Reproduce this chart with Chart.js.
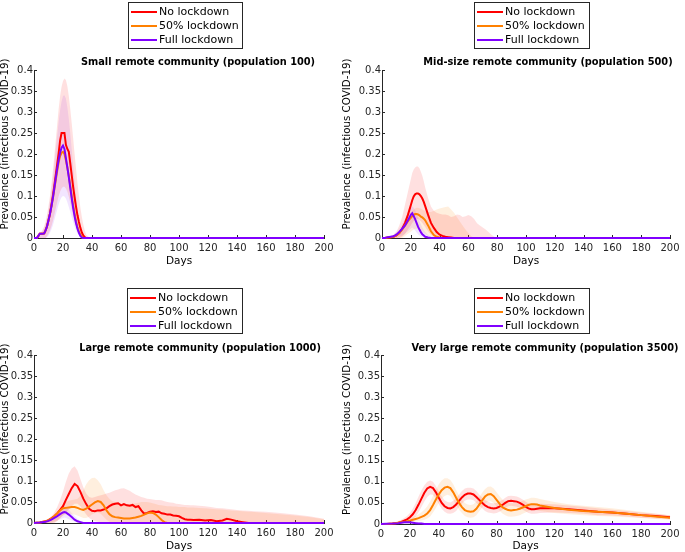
<!DOCTYPE html>
<html><head><meta charset="utf-8">
<script src="https://cdn.jsdelivr.net/npm/chart.js@4.4.1/dist/chart.umd.min.js"></script>
<style>
html,body{margin:0;padding:0;background:#fff;overflow:hidden;width:685px;height:552px;}
canvas{position:absolute;}
</style></head><body>
<canvas id="c1" width="342" height="267" style="left:0;top:0"></canvas>
<canvas id="c2" width="343" height="267" style="left:342px;top:0"></canvas>
<canvas id="c3" width="342" height="276" style="left:0;top:276px"></canvas>
<canvas id="c4" width="343" height="276" style="left:342px;top:276px"></canvas>
<script>
// ---------- DATA ----------
const SERIES_LABELS = ['No lockdown', '50% lockdown', 'Full lockdown'];
const PANEL_TITLES = [
  'Small remote community (population 100)',
  'Mid-size remote community (population 500)',
  'Large remote community (population 1000)',
  'Very large remote community (population 3500)'
];
const X_LABEL = 'Days';
const Y_LABEL = 'Prevalence (infectious COVID-19)';

// Panel 1 – population 100
const P1_DAYS = [0,2,3,4,5,6,7,8,9,10,11,12,13,14,15,16,17,18,19,20,21,22,23,24,25,26,27,28,29,30,31,32,33,34,35,36,38,40,200];
const P1_NO   = [0,0,0.005,0.01,0.01,0.01,0.011,0.018,0.028,0.042,0.058,0.078,0.1,0.124,0.15,0.176,0.202,0.232,0.25,0.25,0.25,0.222,0.212,0.205,0.178,0.15,0.122,0.097,0.074,0.054,0.038,0.024,0.013,0.006,0.002,0,0,0,0];
const P1_HALF = [0,0,0.005,0.01,0.01,0.01,0.011,0.018,0.028,0.042,0.057,0.075,0.094,0.116,0.138,0.16,0.18,0.195,0.203,0.205,0.2,0.185,0.168,0.148,0.125,0.1,0.078,0.058,0.04,0.026,0.015,0.008,0.003,0,0,0,0,0,0];
const P1_FULL = [0,0,0.005,0.01,0.01,0.01,0.011,0.018,0.028,0.042,0.057,0.075,0.095,0.118,0.142,0.165,0.186,0.203,0.215,0.22,0.212,0.19,0.168,0.145,0.12,0.095,0.072,0.052,0.035,0.022,0.012,0.005,0.001,0,0,0,0,0,0];
const P1_NO_HI = [0,0,0.005,0.01,0.014,0.02,0.028,0.04,0.056,0.076,0.1,0.128,0.16,0.195,0.232,0.27,0.308,0.338,0.36,0.374,0.38,0.376,0.362,0.338,0.308,0.274,0.238,0.2,0.165,0.13,0.1,0.072,0.05,0.032,0.018,0.008,0.002,0,0];
const P1_NO_LO = [0,0,0,0,0,0,0,0,0.004,0.01,0.018,0.028,0.04,0.055,0.07,0.085,0.1,0.11,0.118,0.122,0.122,0.118,0.11,0.098,0.084,0.068,0.052,0.038,0.026,0.016,0.009,0.004,0.001,0,0,0,0,0,0];
const P1_FULL_HI = [0,0,0.005,0.01,0.013,0.017,0.024,0.034,0.048,0.066,0.088,0.114,0.143,0.176,0.21,0.244,0.277,0.304,0.325,0.338,0.34,0.332,0.312,0.284,0.25,0.212,0.172,0.134,0.1,0.07,0.047,0.029,0.016,0.008,0.003,0,0,0,0];
const P1_FULL_LO = [0,0,0,0,0,0,0,0,0.002,0.006,0.012,0.02,0.03,0.042,0.055,0.068,0.08,0.09,0.097,0.1,0.099,0.094,0.085,0.074,0.062,0.05,0.038,0.027,0.018,0.011,0.006,0.003,0.001,0,0,0,0,0,0];

// Panel 2 – population 500
const P2_DAYS = [0,2,4,6,8,10,12,14,16,18,20,21,22,23,24,25,26,27,28,29,30,32,34,36,38,40,42,44,46,48,50,52,54,56,58,60,62,64,66,68,70,72,74,76,78,80,200];
const P2_NO   = [0,0,0.001,0.002,0.003,0.006,0.012,0.022,0.036,0.055,0.078,0.09,0.099,0.104,0.106,0.106,0.104,0.1,0.094,0.086,0.076,0.055,0.036,0.024,0.014,0.008,0.005,0.003,0.002,0.001,0,0,0,0,0,0,0,0,0,0,0,0,0,0,0,0,0];
const P2_HALF = [0,0,0.001,0.002,0.003,0.006,0.012,0.02,0.03,0.04,0.048,0.052,0.055,0.057,0.057,0.056,0.054,0.051,0.049,0.046,0.042,0.03,0.016,0.007,0.003,0.001,0,0,0,0,0,0,0,0,0,0,0,0,0,0,0,0,0,0,0,0,0];
const P2_FULL = [0,0,0.002,0.003,0.004,0.008,0.014,0.022,0.03,0.042,0.055,0.059,0.052,0.045,0.036,0.027,0.02,0.014,0.009,0.006,0.003,0.001,0,0,0,0,0,0,0,0,0,0,0,0,0,0,0,0,0,0,0,0,0,0,0,0,0];
const P2_NO_HI = [0,0,0.002,0.004,0.008,0.015,0.03,0.05,0.08,0.11,0.14,0.155,0.163,0.168,0.17,0.17,0.166,0.158,0.148,0.135,0.12,0.095,0.075,0.065,0.06,0.058,0.056,0.056,0.054,0.05,0.052,0.056,0.055,0.05,0.052,0.055,0.052,0.045,0.035,0.03,0.025,0.02,0.014,0.008,0.003,0,0];
const P2_NO_LO = [0,0,0,0,0,0,0,0.003,0.01,0.02,0.03,0.036,0.04,0.043,0.045,0.045,0.043,0.04,0.036,0.031,0.026,0.016,0.008,0.003,0,0,0,0,0,0,0,0,0,0,0,0,0,0,0,0,0,0,0,0,0,0,0];
const P2_HALF_HI = [0,0,0.001,0.003,0.005,0.008,0.015,0.025,0.038,0.05,0.06,0.064,0.068,0.07,0.072,0.072,0.071,0.07,0.068,0.066,0.064,0.062,0.062,0.065,0.068,0.07,0.072,0.074,0.075,0.068,0.06,0.05,0.04,0.03,0.02,0.012,0.005,0,0,0,0,0,0,0,0,0,0];
const P2_HALF_LO = [0,0,0,0,0,0,0,0,0.005,0.01,0.015,0.018,0.02,0.022,0.022,0.022,0.02,0.018,0.015,0.012,0.01,0.005,0.002,0,0,0,0,0,0,0,0,0,0,0,0,0,0,0,0,0,0,0,0,0,0,0,0];
const P2_FULL_HI = [0,0,0.003,0.005,0.008,0.014,0.022,0.033,0.045,0.058,0.07,0.075,0.072,0.066,0.058,0.048,0.04,0.032,0.025,0.019,0.014,0.007,0.003,0,0,0,0,0,0,0,0,0,0,0,0,0,0,0,0,0,0,0,0,0,0,0,0];
const P2_FULL_LO = [0,0,0,0,0,0,0.003,0.006,0.01,0.016,0.022,0.025,0.022,0.018,0.013,0.009,0.006,0.004,0.002,0.001,0,0,0,0,0,0,0,0,0,0,0,0,0,0,0,0,0,0,0,0,0,0,0,0,0,0,0];

// Panel 3 – population 1000
const P3_DAYS = [0,4,8,10,12,14,16,18,20,22,24,26,28,30,32,34,36,38,40,42,44,46,48,50,52,54,56,58,60,62,64,66,68,70,72,74,76,78,80,82,84,86,88,90,92,94,96,98,100,102,104,106,108,110,114,118,122,126,130,133,136,140,144,148,152,160,170,180,190,200];
const P3_NO   = [0,0.001,0.004,0.007,0.011,0.016,0.023,0.031,0.04,0.055,0.069,0.083,0.093,0.088,0.074,0.058,0.045,0.034,0.029,0.028,0.03,0.03,0.032,0.035,0.04,0.044,0.046,0.047,0.042,0.045,0.042,0.041,0.043,0.038,0.04,0.03,0.022,0.024,0.027,0.028,0.026,0.027,0.023,0.022,0.02,0.02,0.018,0.017,0.016,0.012,0.009,0.008,0.008,0.007,0.008,0.006,0.007,0.004,0.006,0.01,0.008,0.004,0.002,0,0,0,0,0,0,0];
const P3_HALF = [0,0.001,0.004,0.007,0.011,0.016,0.023,0.03,0.035,0.036,0.037,0.038,0.038,0.036,0.033,0.031,0.034,0.039,0.044,0.049,0.052,0.05,0.042,0.03,0.021,0.016,0.014,0.013,0.012,0.011,0.011,0.011,0.012,0.013,0.015,0.017,0.02,0.023,0.025,0.024,0.02,0.014,0.007,0.002,0,0,0,0,0,0,0,0,0,0,0,0,0,0,0,0,0,0,0,0,0,0,0,0,0,0];
const P3_NO_HI = [0,0.002,0.006,0.01,0.016,0.025,0.038,0.055,0.075,0.098,0.118,0.13,0.135,0.125,0.105,0.085,0.07,0.062,0.06,0.062,0.064,0.066,0.068,0.07,0.072,0.075,0.078,0.08,0.082,0.083,0.08,0.077,0.072,0.068,0.065,0.062,0.06,0.058,0.057,0.056,0.055,0.055,0.054,0.052,0.05,0.049,0.048,0.046,0.045,0.044,0.043,0.043,0.042,0.042,0.041,0.04,0.038,0.036,0.035,0.034,0.033,0.031,0.03,0.029,0.028,0.027,0.024,0.02,0.016,0.01];
const P3_NO_LO = [0,0,0,0,0,0,0.005,0.012,0.018,0.025,0.032,0.04,0.046,0.046,0.04,0.03,0.02,0.012,0.008,0.005,0.003,0.002,0.001,0,0,0,0,0,0,0,0,0,0,0,0,0,0,0,0,0,0,0,0,0,0,0,0,0,0,0,0,0,0,0,0,0,0,0,0,0,0,0,0,0,0,0,0,0,0,0];
const P3_HALF_HI = [0,0.002,0.005,0.008,0.012,0.018,0.026,0.036,0.045,0.05,0.053,0.055,0.056,0.058,0.065,0.078,0.092,0.102,0.107,0.108,0.102,0.092,0.078,0.066,0.058,0.052,0.05,0.048,0.046,0.046,0.045,0.045,0.046,0.047,0.048,0.05,0.05,0.05,0.049,0.047,0.045,0.043,0.042,0.041,0.04,0.04,0.039,0.039,0.038,0.038,0.038,0.037,0.037,0.037,0.036,0.035,0.034,0.033,0.032,0.031,0.03,0.029,0.028,0.027,0.026,0.024,0.021,0.018,0.014,0.009];
const P3_HALF_LO = [0,0,0,0,0,0.002,0.005,0.012,0.018,0.02,0.021,0.021,0.02,0.018,0.015,0.012,0.012,0.015,0.02,0.024,0.025,0.022,0.015,0.008,0.003,0,0,0,0,0,0,0,0,0,0,0,0,0,0,0,0,0,0,0,0,0,0,0,0,0,0,0,0,0,0,0,0,0,0,0,0,0,0,0,0,0,0,0,0,0];
const P3_FULL_DAYS = [0,4,8,10,12,14,16,18,20,21,22,24,26,28,30,32,34,36,200];
const P3_FULL    = [0,0.001,0.003,0.005,0.008,0.012,0.016,0.021,0.025,0.026,0.025,0.02,0.014,0.008,0.004,0.002,0,0,0];
const P3_FULL_HI = [0,0.002,0.006,0.009,0.014,0.02,0.027,0.034,0.039,0.04,0.038,0.032,0.024,0.016,0.01,0.005,0.002,0,0];
const P3_FULL_LO = [0,0,0,0.001,0.002,0.004,0.006,0.009,0.012,0.013,0.012,0.009,0.006,0.003,0.001,0,0,0,0];

// Panel 4 – population 3500
const P4_DAYS = [0,4,8,10,12,14,16,18,20,22,24,26,28,30,32,34,36,38,40,42,44,46,48,50,52,54,56,58,60,62,64,66,68,70,72,74,76,78,80,82,84,86,88,90,92,94,96,98,100,102,104,106,108,110,120,130,140,150,160,170,180,190,200];
const P4_NO   = [0,0,0.001,0.002,0.003,0.005,0.008,0.011,0.016,0.023,0.033,0.046,0.06,0.074,0.084,0.088,0.085,0.075,0.062,0.05,0.042,0.038,0.037,0.04,0.046,0.055,0.063,0.069,0.072,0.072,0.07,0.064,0.057,0.05,0.044,0.04,0.038,0.037,0.038,0.041,0.045,0.05,0.054,0.055,0.054,0.053,0.05,0.046,0.041,0.037,0.035,0.035,0.036,0.037,0.037,0.035,0.032,0.029,0.027,0.024,0.021,0.019,0.016];
const P4_HALF = [0,0,0.001,0.002,0.003,0.004,0.005,0.006,0.008,0.01,0.012,0.014,0.017,0.02,0.025,0.033,0.045,0.058,0.07,0.08,0.086,0.088,0.085,0.075,0.062,0.05,0.04,0.033,0.03,0.029,0.03,0.036,0.046,0.056,0.065,0.07,0.071,0.066,0.057,0.048,0.04,0.036,0.033,0.032,0.033,0.034,0.036,0.039,0.042,0.045,0.047,0.047,0.046,0.044,0.038,0.034,0.031,0.029,0.027,0.024,0.021,0.018,0.015];
const P4_NO_HI = [0,0.001,0.003,0.005,0.007,0.01,0.014,0.019,0.026,0.036,0.05,0.065,0.08,0.092,0.1,0.103,0.1,0.09,0.077,0.065,0.056,0.052,0.051,0.055,0.061,0.07,0.078,0.084,0.086,0.086,0.084,0.078,0.07,0.063,0.057,0.053,0.05,0.049,0.05,0.053,0.057,0.062,0.066,0.067,0.066,0.065,0.062,0.058,0.053,0.049,0.047,0.046,0.047,0.048,0.047,0.044,0.041,0.037,0.034,0.031,0.027,0.024,0.021];
const P4_NO_LO = [0,0,0,0,0,0.001,0.003,0.005,0.008,0.012,0.018,0.028,0.04,0.053,0.064,0.07,0.069,0.06,0.047,0.036,0.029,0.025,0.024,0.026,0.031,0.04,0.048,0.055,0.058,0.058,0.056,0.05,0.043,0.037,0.031,0.027,0.026,0.025,0.026,0.029,0.033,0.038,0.042,0.043,0.042,0.041,0.038,0.034,0.03,0.026,0.024,0.024,0.025,0.026,0.027,0.026,0.024,0.021,0.02,0.018,0.015,0.013,0.011];
const P4_HALF_HI = [0,0.001,0.002,0.003,0.005,0.006,0.008,0.01,0.013,0.016,0.019,0.023,0.028,0.034,0.042,0.053,0.067,0.081,0.094,0.103,0.108,0.108,0.104,0.094,0.08,0.068,0.057,0.05,0.046,0.045,0.047,0.053,0.064,0.074,0.083,0.088,0.089,0.084,0.075,0.066,0.058,0.053,0.05,0.049,0.049,0.05,0.052,0.055,0.058,0.06,0.062,0.062,0.061,0.059,0.052,0.047,0.043,0.04,0.037,0.033,0.029,0.025,0.021];
const P4_HALF_LO = [0,0,0,0.001,0.001,0.002,0.002,0.003,0.004,0.005,0.006,0.007,0.008,0.01,0.013,0.018,0.027,0.038,0.05,0.06,0.066,0.069,0.067,0.057,0.045,0.034,0.026,0.019,0.016,0.015,0.016,0.021,0.03,0.039,0.048,0.053,0.054,0.05,0.041,0.032,0.025,0.021,0.018,0.017,0.018,0.019,0.021,0.024,0.027,0.03,0.032,0.033,0.032,0.031,0.026,0.023,0.021,0.019,0.018,0.016,0.014,0.012,0.01];
const P4_FULL_DAYS = [0,8,12,14,16,18,20,22,24,26,28,30,32,200];
const P4_FULL    = [0,0.001,0.002,0.003,0.004,0.004,0.004,0.003,0.002,0.001,0.001,0,0,0];
const P4_FULL_HI = [0,0.002,0.004,0.005,0.006,0.007,0.007,0.006,0.005,0.003,0.002,0.001,0,0];
const P4_FULL_LO = [0,0,0,0,0,0,0,0,0,0,0,0,0,0];

// ---------- STYLE ----------
const AXIS = '#262626';
const FONT = '"DejaVu Sans", Verdana, sans-serif';
const LINE_COLORS = ['#ff0000', '#ff8000', '#8000ff'];
const BAND_COLORS = ['rgba(255,0,0,0.12)', 'rgba(255,128,0,0.13)', 'rgba(128,0,255,0.10)'];

const decor = {
  id: 'decor',
  beforeDatasetsDraw(chart) {
    const ctx = chart.ctx, a = chart.chartArea, xs = chart.scales.x, ys = chart.scales.y;
    ctx.save();
    ctx.strokeStyle = AXIS; ctx.lineWidth = 1;
    ctx.beginPath();
    xs.ticks.forEach(t => { const px = Math.round(xs.getPixelForValue(t.value)) + 0.5; ctx.moveTo(px, a.bottom); ctx.lineTo(px, a.bottom - 3); });
    ys.ticks.forEach(t => { const py = Math.round(ys.getPixelForValue(t.value)) + 0.5; ctx.moveTo(a.left, py); ctx.lineTo(a.left + 3, py); });
    ctx.stroke();
    ctx.restore();
  },
  afterDraw(chart, args, o) {
    const ctx = chart.ctx, a = chart.chartArea;
    ctx.save();
    ctx.fillStyle = '#000';
    // panel title
    ctx.font = 'bold 9.8px ' + FONT;
    ctx.textAlign = 'center'; ctx.textBaseline = 'middle';
    ctx.fillText(o.title, o.titleX, o.titleY);
    // y-axis label
    ctx.save();
    ctx.translate(5.5, (a.top + a.bottom) / 2 - 10);
    ctx.rotate(-Math.PI / 2);
    ctx.font = '10.3px ' + FONT;
    ctx.fillText(Y_LABEL, 0, 0);
    ctx.restore();
    // legend box
    const b = o.box;
    ctx.fillStyle = '#fff';
    ctx.fillRect(b.x, b.y, b.w, b.h);
    ctx.strokeStyle = AXIS; ctx.lineWidth = 1;
    ctx.strokeRect(b.x + 0.5, b.y + 0.5, b.w, b.h);
    ctx.font = '11px ' + FONT;
    ctx.textAlign = 'left';
    SERIES_LABELS.forEach((lab, i) => {
      const y = b.y + 10 + i * 14;
      ctx.strokeStyle = LINE_COLORS[i]; ctx.lineWidth = 2;
      ctx.beginPath(); ctx.moveTo(b.x + 3, y); ctx.lineTo(b.x + 29, y); ctx.stroke();
      ctx.fillStyle = '#000';
      ctx.fillText(lab, b.x + 31, y + 0.5);
    });
    ctx.restore();
  }
};

function pts(days, vals) { return days.map((d, i) => ({ x: d, y: vals[i] })); }

function buildPanel(id, p) {
  const cv = document.getElementById(id);
  const W = cv.width, H = cv.height;
  const datasets = [];
  p.series.forEach((s, k) => {
    if (s.hi) {
      datasets.push({ data: pts(s.days, s.hi), fill: '+1', backgroundColor: BAND_COLORS[k], borderColor: 'rgba(0,0,0,0)', borderWidth: 0, pointRadius: 0, order: 10 });
      datasets.push({ data: pts(s.days, s.lo), fill: false, borderColor: 'rgba(0,0,0,0)', borderWidth: 0, pointRadius: 0, order: 10 });
    }
  });
  p.series.forEach((s, k) => {
    datasets.push({ label: SERIES_LABELS[k], data: pts(s.days, s.vals), borderColor: LINE_COLORS[k], borderWidth: 2, pointRadius: 0, fill: false, tension: 0, order: 3 - k, clip: 4 });
  });
  const tickFont = { family: FONT, size: 10 };
  new Chart(cv, {
    type: 'line',
    data: { datasets },
    options: {
      responsive: false, animation: false, events: [],
      layout: { padding: { left: 0, top: p.area.top, right: W - p.area.right, bottom: 0 } },
      plugins: {
        legend: { display: false }, tooltip: { enabled: false },
        decor: { title: p.title, titleX: p.titleX, titleY: p.titleY, box: p.box }
      },
      scales: {
        x: {
          type: 'linear', min: 0, max: 200,
          ticks: { stepSize: 20, font: tickFont, color: AXIS, padding: 4, maxRotation: 0, autoSkip: false },
          grid: { display: true, drawOnChartArea: false, drawTicks: false },
          border: { display: true, color: AXIS, width: 1 },
          title: { display: true, text: X_LABEL, color: '#000', font: { family: FONT, size: 10.5, lineHeight: 1 }, padding: 0 },
          afterFit: s => { s.height = H - p.area.bottom; }
        },
        y: {
          min: 0, max: 0.4,
          ticks: { stepSize: 0.05, font: tickFont, color: AXIS, padding: 1, callback: v => String(+v.toFixed(2)) },
          grid: { display: true, drawOnChartArea: false, drawTicks: false },
          border: { display: true, color: AXIS, width: 1 },
          title: { display: false, text: Y_LABEL },
          afterFit: s => { s.width = p.area.left; }
        }
      }
    },
    plugins: [decor]
  });
}

buildPanel('c1', {
  title: PANEL_TITLES[0], titleX: 198, titleY: 62,
  box: { x: 128, y: 2, w: 114, h: 46 },
  area: { left: 34, top: 70, right: 324, bottom: 238 },
  series: [
    { days: P1_DAYS, vals: P1_NO, hi: P1_NO_HI, lo: P1_NO_LO },
    { days: P1_DAYS, vals: P1_HALF },
    { days: P1_DAYS, vals: P1_FULL, hi: P1_FULL_HI, lo: P1_FULL_LO }
  ]
});
buildPanel('c2', {
  title: PANEL_TITLES[1], titleX: 206, titleY: 62,
  box: { x: 132, y: 2, w: 115, h: 46 },
  area: { left: 40, top: 70, right: 328, bottom: 238 },
  series: [
    { days: P2_DAYS, vals: P2_NO, hi: P2_NO_HI, lo: P2_NO_LO },
    { days: P2_DAYS, vals: P2_HALF, hi: P2_HALF_HI, lo: P2_HALF_LO },
    { days: P2_DAYS, vals: P2_FULL, hi: P2_FULL_HI, lo: P2_FULL_LO }
  ]
});
buildPanel('c3', {
  title: PANEL_TITLES[2], titleX: 200, titleY: 72,
  box: { x: 127, y: 12, w: 115, h: 45 },
  area: { left: 34, top: 79, right: 324, bottom: 247 },
  series: [
    { days: P3_DAYS, vals: P3_NO, hi: P3_NO_HI, lo: P3_NO_LO },
    { days: P3_DAYS, vals: P3_HALF, hi: P3_HALF_HI, lo: P3_HALF_LO },
    { days: P3_FULL_DAYS, vals: P3_FULL, hi: P3_FULL_HI, lo: P3_FULL_LO }
  ]
});
buildPanel('c4', {
  title: PANEL_TITLES[3], titleX: 203, titleY: 72,
  box: { x: 132, y: 12, w: 115, h: 45 },
  area: { left: 39, top: 79, right: 328, bottom: 248 },
  series: [
    { days: P4_DAYS, vals: P4_NO, hi: P4_NO_HI, lo: P4_NO_LO },
    { days: P4_DAYS, vals: P4_HALF, hi: P4_HALF_HI, lo: P4_HALF_LO },
    { days: P4_FULL_DAYS, vals: P4_FULL, hi: P4_FULL_HI, lo: P4_FULL_LO }
  ]
});
</script>
</body></html>
